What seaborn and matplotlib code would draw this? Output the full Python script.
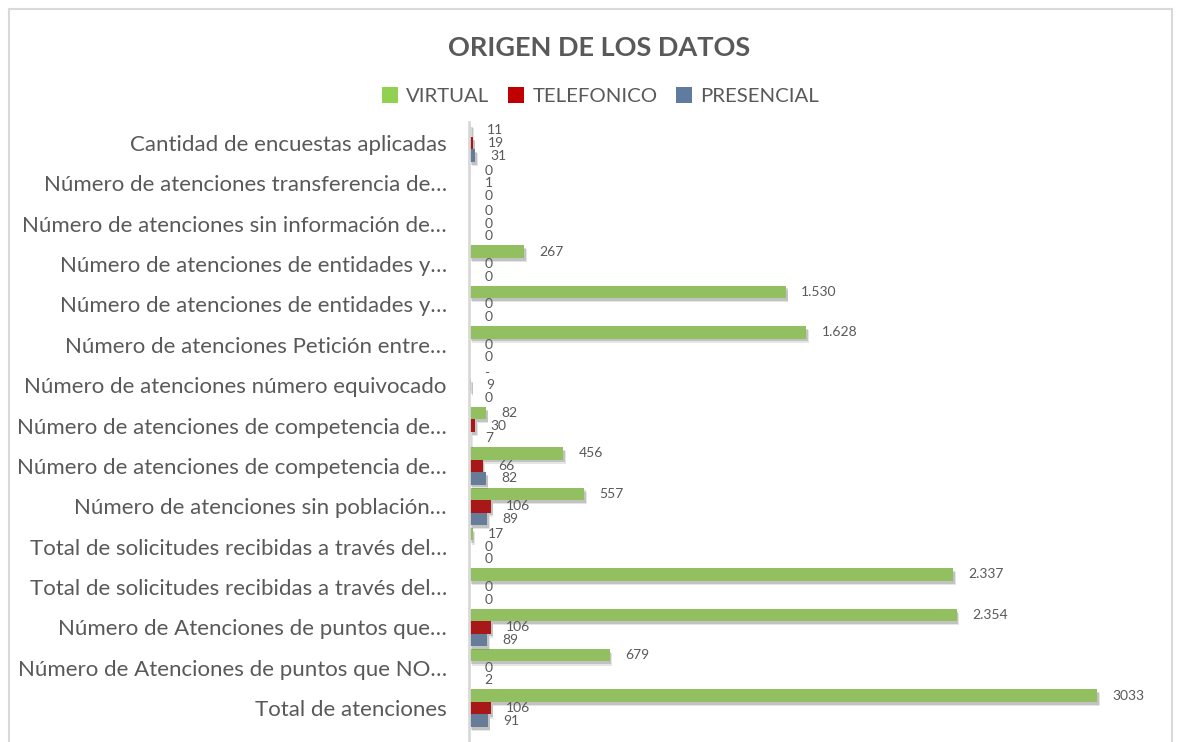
import pandas as pd
import matplotlib
matplotlib.use('Agg')
import matplotlib.pyplot as plt
import matplotlib.patheffects as pe
from matplotlib.patches import Patch
from matplotlib.lines import Line2D
import seaborn as sns

# ── Data ──────────────────────────────────────────────────────────────────────
categorias = [
    'Cantidad de encuestas aplicadas',
    'Número de atenciones transferencia de…',
    'Número de atenciones sin información de…',
    'Número de atenciones de entidades y…',
    'Número de atenciones de entidades y…',
    'Número de atenciones Petición entre…',
    'Número de atenciones número equivocado',
    'Número de atenciones de competencia de…',
    'Número de atenciones de competencia de…',
    'Número de atenciones sin población…',
    'Total de solicitudes recibidas a través del…',
    'Total de solicitudes recibidas a través del…',
    'Número de Atenciones de puntos que…',
    'Número de Atenciones de puntos que NO…',
    'Total de atenciones',
]
virtual = [11, 0, 0, 267, 1530, 1628, 0, 82, 456, 557, 17, 2337, 2354, 679, 3033]
telefonico = [19, 1, 0, 0, 0, 0, 9, 30, 66, 106, 0, 0, 106, 0, 106]
presencial = [31, 0, 0, 0, 0, 0, 0, 7, 82, 89, 0, 0, 89, 2, 91]

# labels as printed on the chart (Excel formats differ per cell)
etiquetas_virtual = ['11', '0', '0', '267', '1.530', '1.628', '-', '82', '456',
                     '557', '17', '2.337', '2.354', '679', '3033']

series = ['VIRTUAL', 'TELEFONICO', 'PRESENCIAL']
colores = ['#92D050', '#C00000', '#5F7B9E']
TEXT = '#595959'

# ── Long table (category ids keep duplicate names apart) ─────────────────────
ids = [f'c{i}' for i in range(len(categorias))]
df = pd.concat([
    pd.DataFrame({'cat': ids, 'origen': s, 'valor': v})
    for s, v in zip(series, [virtual, telefonico, presencial])
])

plt.rcParams['font.family'] = ['Lato', 'DejaVu Sans']

fig = plt.figure(figsize=(11.82, 7.42), dpi=100)
ax = fig.add_axes([469 / 1182, 0.0, 0.5609, 1 - 122 / 742])

sns.barplot(data=df, y='cat', x='valor', hue='origen', order=ids,
            hue_order=series, palette=colores, orient='h', width=0.93,
            errorbar=None, legend=False, ax=ax)

# soft drop shadow like the Excel bars
shadow = [pe.SimplePatchShadow(offset=(1.8, -3.0), shadow_rgbFace='k', alpha=0.10),
          pe.SimplePatchShadow(offset=(1.2, -2.0), shadow_rgbFace='k', alpha=0.15),
          pe.Normal()]
for p in ax.patches:
    if p.get_width() > 0:
        p.set_path_effects(shadow)
    p.set_linewidth(0)

label_sets = [etiquetas_virtual,
              [str(v) for v in telefonico],
              [str(v) for v in presencial]]
for cont, labs in zip(ax.containers, label_sets):
    ax.bar_label(cont, labels=labs, padding=11, fontsize=10, color=TEXT)

ax.set_xlim(0, 3200)
ax.set_ylim(len(ids) - 1 + 0.84, -0.52)
ax.set_yticks(range(len(ids)))
ax.set_yticklabels(categorias, fontsize=16, color=TEXT)
ax.tick_params(axis='y', length=0, pad=16)
ax.set_xticks([])
ax.set_xlabel('')
ax.set_ylabel('')
for side in ['top', 'right', 'bottom']:
    ax.spines[side].set_visible(False)
ax.spines['left'].set_color('#D9D9D9')
ax.spines['left'].set_linewidth(2)
ax.set_facecolor('none')

# title and legend
fig.text(0.507, 1 - 48 / 742, 'ORIGEN DE LOS DATOS', ha='center', va='center',
         fontsize=19.5, fontweight='bold', color=TEXT)
handles = [Patch(facecolor=c, edgecolor='none', label=s) for s, c in zip(series, colores)]
leg = fig.legend(handles=handles, loc='center', bbox_to_anchor=(0.508, 1 - 96 / 742),
                 ncol=3, frameon=False, fontsize=14.7, handlelength=0.8,
                 handleheight=0.8, handletextpad=0.4, columnspacing=0.9)
for t in leg.get_texts():
    t.set_color(TEXT)

# chart-area border (bottom is cut off in the source)
bx0, bx1, by1 = 9 / 1182, 1172 / 1182, 1 - 9 / 742
for xs, ys in [([bx0, bx0], [0, by1]), ([bx0, bx1], [by1, by1]), ([bx1, bx1], [by1, 0])]:
    fig.add_artist(Line2D(xs, ys, color='#D9D9D9', linewidth=1.5, transform=fig.transFigure))

fig.savefig('out.png', dpi=100)
